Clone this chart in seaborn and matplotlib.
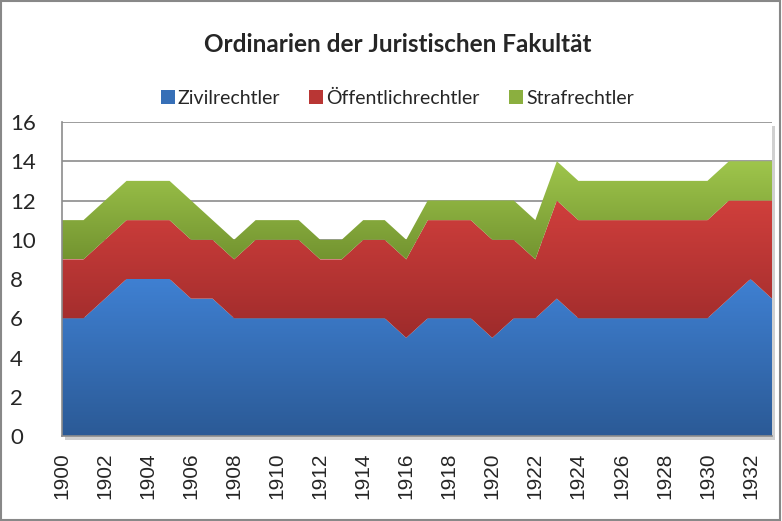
import seaborn as sns
import matplotlib.pyplot as plt
import matplotlib.patches as mpatches
import numpy as np
import pandas as pd

years = list(range(1900, 1934))
zivil = [6, 6, 7, 8, 8, 8, 7, 7, 6, 6, 6, 6,
         6, 6, 6, 6, 5, 6, 6, 6, 5, 6, 6,
         7, 6, 6, 6, 6, 6, 6, 6, 7, 8, 7]
oeffentlich = [3, 3, 3, 3, 3, 3, 3, 3, 3, 4, 4, 4,
               3, 3, 4, 4, 4, 5, 5, 5, 5, 4, 3,
               5, 5, 5, 5, 5, 5, 5, 5, 5, 4, 5]
straf = [2, 2, 2, 2, 2, 2, 2, 1, 1, 1, 1, 1,
         1, 1, 1, 1, 1, 1, 1, 1, 2, 2, 2,
         2, 2, 2, 2, 2, 2, 2, 2, 2, 2, 2]
series = ["Zivilrechtler", "Öffentlichrechtler", "Strafrechtler"]
# (bottom colour, top colour) of the gradient fill
grads = [("#2b5a96", "#3f80d2"), ("#9e2b2b", "#d03f3c"), ("#739430", "#9fc64c")]

df = pd.DataFrame({"Jahr": years, series[0]: zivil, series[1]: oeffentlich, series[2]: straf})

sns.set_style("white")
plt.rcParams["font.family"] = ["Lato", "DejaVu Sans"]

fig = plt.figure(figsize=(7.82, 5.21), dpi=100)
ax = fig.add_axes([62 / 782, 1 - 436 / 521, 710 / 782, 314 / 521])

# plot area shadow
ax.add_patch(mpatches.Rectangle((0.004, -0.012), 1, 1, transform=ax.transAxes,
                                facecolor="#d0d0d0", edgecolor="none", zorder=0, clip_on=False))
ax.add_patch(mpatches.Rectangle((0, 0), 1, 1, transform=ax.transAxes,
                                facecolor="white", edgecolor="none", zorder=0.5))

for y in range(2, 17, 2):
    ax.axhline(y, color="#8c8c8c", lw=1.2, zorder=1)

bottom = np.zeros(len(years))
handles = []
for name, (c0, c1) in zip(series, grads):
    top = bottom + df[name].to_numpy()
    poly = ax.fill_between(df["Jahr"], bottom, top, facecolor="none", edgecolor="none", zorder=2)
    cmap = sns.blend_palette([c0, c1], as_cmap=True)
    lo, hi = bottom.min(), top.max()
    grad = np.linspace(0, 1, 256).reshape(-1, 1)
    im = ax.imshow(grad, cmap=cmap, origin="lower", aspect="auto",
                   extent=(years[0], years[-1], lo, hi), zorder=2)
    im.set_clip_path(poly.get_paths()[0], transform=ax.transData)
    handles.append(mpatches.Patch(facecolor=cmap(0.55), edgecolor="none", label=name))
    bottom = top

ax.set_xlim(years[0], years[-1])
ax.set_ylim(0, 16)
ax.set_yticks(range(0, 17, 2))
ax.set_xticks(years[::2])
ax.set_xticklabels([str(y) for y in years[::2]], rotation=90,
                   family="Liberation Sans", fontsize=15)
ax.tick_params(axis="x", length=0, pad=12)
ax.tick_params(axis="y", length=0, pad=0, labelsize=16)
for t in ax.get_yticklabels():
    t.set_horizontalalignment("left")
    t.set_x(-52 / 710)
for s in ["top", "right"]:
    ax.spines[s].set_visible(False)
for s in ["left", "bottom"]:
    ax.spines[s].set_color("#8c8c8c")
    ax.spines[s].set_linewidth(1.2)
    ax.spines[s].set_zorder(3)

fig.text(0.508, 1 - 45 / 521, "Ordinarien der Juristischen Fakultät",
         ha="center", va="center", fontsize=17.5, fontweight="bold")
fig.legend(handles=handles, loc="center", bbox_to_anchor=(0.508, 1 - 98 / 521), ncol=3,
           frameon=False, fontsize=14, handlelength=0.72, handleheight=0.72,
           handletextpad=0.15, columnspacing=1.5)

fig.patches.append(mpatches.Rectangle((0.001, 0.002), 0.997, 0.996, transform=fig.transFigure,
                                      fill=False, edgecolor="#888888", lw=1.5))

fig.savefig("out.png", dpi=100)
